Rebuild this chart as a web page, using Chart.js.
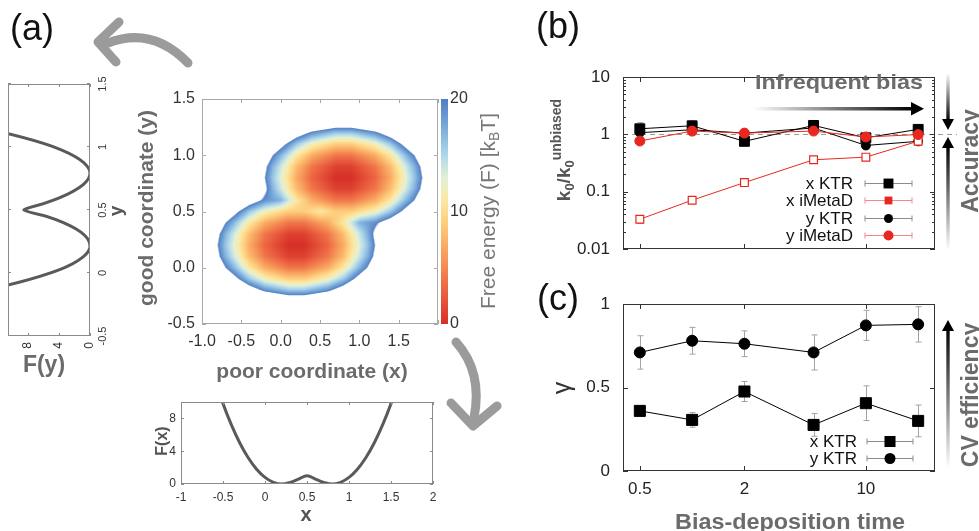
<!DOCTYPE html>
<html>
<head>
<meta charset="utf-8">
<script src="https://cdn.jsdelivr.net/npm/chart.js@4.4.1/dist/chart.umd.min.js"></script>
<style>
  body { margin: 0; background: #fff; width: 979px; height: 531px; overflow: hidden; position: relative;
         font-family: "Liberation Sans", Arial, sans-serif; }
  .panel { position: absolute; }
  .panel canvas { display: block; }
  #notes { position: absolute; left: 0; top: 0; pointer-events: none; }
</style>
</head>
<body>
<div class="panel" style="left:140px; top:80px;"><canvas id="surfaceChart" width="380" height="310"></canvas></div>
<div class="panel" style="left:150px; top:395px;"><canvas id="fxChart" width="300" height="136"></canvas></div>
<div class="panel" style="left:3px; top:356px; transform-origin:0 0; transform:rotate(-90deg);"><canvas id="fyChart" width="290" height="135"></canvas></div>
<div class="panel" style="left:560px; top:60px;"><canvas id="rateChart" width="419" height="200"></canvas></div>
<div class="panel" style="left:560px; top:285px;"><canvas id="gammaChart" width="419" height="246"></canvas></div>

<svg id="notes" width="979" height="531" font-family="Liberation Sans, Arial, sans-serif">
  <defs>
    <linearGradient id="fadeRight" x1="0" y1="0" x2="1" y2="0">
      <stop offset="0" stop-color="#000" stop-opacity="0"/><stop offset="1" stop-color="#000"/>
    </linearGradient>
    <linearGradient id="fadeDown" x1="0" y1="0" x2="0" y2="1">
      <stop offset="0" stop-color="#000" stop-opacity="0"/><stop offset="1" stop-color="#000"/>
    </linearGradient>
    <linearGradient id="fadeUp" x1="0" y1="1" x2="0" y2="0">
      <stop offset="0" stop-color="#000" stop-opacity="0"/><stop offset="1" stop-color="#000"/>
    </linearGradient>
  </defs>

  <!-- panel letters -->
  <text x="32" y="40" font-size="36" text-anchor="middle" fill="#111">(a)</text>
  <text x="558" y="38" font-size="36" text-anchor="middle" fill="#111">(b)</text>
  <text x="558" y="310" font-size="36" text-anchor="middle" fill="#111">(c)</text>

  <!-- curved grey arrows linking the profiles to the surface -->
  <path d="M188,63 Q152,26 108,43" fill="none" stroke="#9b9b9b" stroke-width="9" stroke-linecap="round"/>
  <path d="M119,22 L98,42 L116,62" fill="none" stroke="#9b9b9b" stroke-width="9" stroke-linecap="round" stroke-linejoin="round"/>
  <path d="M456,342 Q483,372 474,418" fill="none" stroke="#9b9b9b" stroke-width="9" stroke-linecap="round"/>
  <path d="M451,403 L473,426 L497,406" fill="none" stroke="#9b9b9b" stroke-width="9" stroke-linecap="round" stroke-linejoin="round"/>

  <!-- axis titles for (a) -->
  <text x="312" y="378" font-size="21" font-weight="bold" text-anchor="middle" fill="#6b6b6b">poor coordinate (x)</text>
  <text transform="translate(153,208) rotate(-90)" font-size="21" font-weight="bold" text-anchor="middle" fill="#6b6b6b">good coordinate (y)</text>
  <text transform="translate(495,211) rotate(-90)" font-size="21" text-anchor="middle" fill="#777">Free energy (F) [k<tspan font-size="14" dy="4">B</tspan><tspan dy="-4">T]</tspan></text>
  <text x="44" y="372" font-size="23" font-weight="bold" text-anchor="middle" fill="#6b6b6b">F(y)</text>
  <text transform="translate(122,211) rotate(-90)" font-size="19" font-weight="bold" text-anchor="middle" fill="#555">y</text>
  <text x="306" y="521" font-size="20" font-weight="bold" text-anchor="middle" fill="#555">x</text>
  <text transform="translate(167,441) rotate(-90)" font-size="16" font-weight="bold" text-anchor="middle" fill="#555">F(x)</text>

  <!-- (b) and (c) titles and guide arrows -->
  <text transform="translate(570,150) rotate(-90)" font-size="19" font-weight="bold" text-anchor="middle" fill="#555">k<tspan font-size="13" dy="4">0</tspan><tspan dy="-4">/k</tspan><tspan font-size="13" dy="4">0</tspan><tspan font-size="14" dy="-13">unbiased</tspan></text>
  <text transform="translate(570,388) rotate(-90)" font-size="25" text-anchor="middle" fill="#333">γ</text>
  <text x="790" y="529" font-size="22" font-weight="bold" text-anchor="middle" fill="#6b6b6b" textLength="230" lengthAdjust="spacingAndGlyphs">Bias-deposition time</text>

  <text x="755" y="89" font-size="21" font-weight="bold" fill="#6b6b6b" textLength="168" lengthAdjust="spacingAndGlyphs">Infrequent bias</text>
  <rect x="753" y="107" width="160" height="3.5" fill="url(#fadeRight)"/>
  <polygon points="911,102 924,108.7 911,115.5" fill="#000"/>

  <rect x="946.3" y="73" width="3.4" height="48" fill="url(#fadeDown)"/>
  <polygon points="942,119 948,130 954,119" fill="#000"/>
  <rect x="946.3" y="146" width="3.4" height="104" fill="url(#fadeUp)"/>
  <polygon points="942,148 948,137 954,148" fill="#000"/>
  <text transform="translate(978,161) rotate(-90)" font-size="23" font-weight="bold" text-anchor="middle" fill="#6b6b6b">Accuracy</text>

  <rect x="946.3" y="328" width="3.4" height="140" fill="url(#fadeUp)"/>
  <polygon points="942,331 948,320 954,331" fill="#000"/>
  <text transform="translate(978,395) rotate(-90)" font-size="23" font-weight="bold" text-anchor="middle" fill="#6b6b6b">CV efficiency</text>
</svg>

<script>
// ---------------- data ----------------
// bias-deposition times shared by (b) and (c)
const biasTimes = [0.5, 1, 2, 5, 10, 20];
const timeTicks = [0.5, 2, 10];

// (b) rate relative to the unbiased rate
const xKtrRate     = [1.25, 1.41, 0.755, 1.43, 0.87, 1.22];
const xKtrRateErr  = [0.35, 0.3, 0.1, 0.15, 0.1, 0.12];
const xMetaRate    = [0.033, 0.071, 0.144, 0.36, 0.40, 0.76];
const xMetaRateErr = [0.005, 0.005, 0.008, 0.02, 0.02, 0.04];
const yKtrRate     = [1.07, 1.2, 1.05, 1.29, 0.64, 0.755];
const yKtrRateErr  = [0.2, 0.25, 0.1, 0.15, 0.08, 0.08];
const yMetaRate    = [0.765, 1.14, 1.05, 1.14, 0.9, 0.99];
const yMetaRateErr = [0.05, 0.1, 0.1, 0.08, 0.08, 0.05];
const rateTicks = [0.01, 0.1, 1, 10];

// (c) gamma
const xKtrGamma    = [0.36, 0.306, 0.476, 0.276, 0.406, 0.30];
const xKtrGammaErr = [0.03, 0.044, 0.06, 0.068, 0.104, 0.095];
const yKtrGamma    = [0.71, 0.78, 0.762, 0.71, 0.872, 0.878];
const yKtrGammaErr = [0.1, 0.08, 0.077, 0.105, 0.09, 0.106];
const gammaTicks = [0, 0.5, 1];

// (a) one-dimensional free-energy profiles
const profileX  = [-0.6, -0.5, -0.4, -0.3, -0.2, -0.1, 0.0, 0.1, 0.2, 0.3, 0.4, 0.5, 0.6, 0.7, 0.8, 0.9, 1.0, 1.1, 1.2, 1.3, 1.4, 1.5, 1.6];
const profileFx = [12.8, 9.8, 7.2, 5.0, 3.2, 1.8, 0.8, 0.2, 0.0, 0.2, 0.6, 1.0, 0.6, 0.2, 0.0, 0.2, 0.8, 1.8, 3.2, 5.0, 7.2, 9.8, 12.8];
const profileY  = [-0.15, -0.1, -0.05, 0, 0.05, 0.1, 0.15, 0.2, 0.25, 0.3, 0.35, 0.4, 0.45, 0.5, 0.55, 0.6, 0.65, 0.7, 0.75, 0.8, 0.85, 0.9, 0.95, 1.0, 1.05, 1.1, 1.15];
const profileFy = [14.4, 10.8, 7.7, 5.1, 3.0, 1.5, 0.5, 0.0, 0.1, 0.7, 1.8, 3.4, 5.6, 8.5, 6.0, 3.8, 2.1, 0.9, 0.2, 0.0, 0.4, 1.3, 2.7, 4.6, 7.1, 10.1, 13.6];
const coordTicks = [-1, -0.5, 0, 0.5, 1, 1.5, 2];
const goodTicks  = [-0.5, 0, 0.5, 1, 1.5];
const energyProfileTicks = [0, 4, 8];

// (a) free-energy surface F(x, y) in kT, rows from y = 1.5 down to y = -0.5
const gridX = [-1.0, -0.9, -0.8, -0.7, -0.6, -0.5, -0.4, -0.3, -0.2, -0.1, 0.0, 0.1, 0.2, 0.3, 0.4, 0.5, 0.6, 0.7, 0.8, 0.9, 1.0, 1.1, 1.2, 1.3, 1.4, 1.5, 1.6, 1.7, 1.8, 1.9, 2.0];
const gridY = [1.5, 1.4, 1.3, 1.2, 1.1, 1.0, 0.9, 0.8, 0.7, 0.6, 0.5, 0.4, 0.3, 0.2, 0.1, 0.0, -0.1, -0.2, -0.3, -0.4, -0.5];
const freeEnergy = [
  [30,30,30,30,30,30,30,30,30,30,30,30,30,30,30,30,30,30,30,30,30,30,30,30,30,30,30,30,30,30,30],
  [30,30,30,30,30,30,30,30,30,30,30,30,30,30,30,30,30,30,30,30,30,30,30,30,30,30,30,30,30,30,30],
  [30,30,30,30,30,30,30,30,30,30,30,30,30,30,28,27,26,25,25,25,26,27,28,30,30,30,30,30,30,30,30],
  [30,30,30,30,30,30,30,30,30,30,29,26,23,21,19,18,17,16,16,16,17,18,19,21,23,26,29,30,30,30,30],
  [30,30,30,30,30,30,30,30,29,25,22,19,16,14,12,11,10, 9, 9, 9,10,11,12,14,16,19,22,25,29,30,30],
  [30,30,30,30,30,30,30,28,24,20,17,14,11, 9, 7, 6, 5, 4, 4, 4, 5, 6, 7, 9,11,14,17,20,24,28,30],
  [30,30,30,30,30,30,30,25,21,17,14,11, 8, 6, 4, 3, 2, 1, 1, 1, 2, 3, 4, 6, 8,11,14,17,21,25,30],
  [30,30,30,30,30,30,29,24,20,16,13,10, 7, 5, 3, 2, 1, 0, 0, 0, 1, 2, 3, 5, 7,10,13,16,20,24,29],
  [30,30,30,30,30,30,30,25,21,17,14,11, 8, 6, 4, 3, 2, 1, 1, 1, 2, 3, 4, 6, 8,11,14,17,21,25,30],
  [30,30,30,30,29,26,23,21,19,18,17,14,11, 9, 7, 6, 5, 4, 4, 4, 5, 6, 7, 9,11,14,17,20,24,28,30],
  [30,30,29,25,22,19,16,14,12,11,10, 9, 9, 9,10,11,10, 9, 9, 9,10,11,12,14,16,19,22,25,29,30,30],
  [30,28,24,20,17,14,11, 9, 7, 6, 5, 4, 4, 4, 5, 6, 7, 9,11,14,17,18,19,21,23,26,29,30,30,30,30],
  [30,25,21,17,14,11, 8, 6, 4, 3, 2, 1, 1, 1, 2, 3, 4, 6, 8,11,14,17,21,25,30,30,30,30,30,30,30],
  [29,24,20,16,13,10, 7, 5, 3, 2, 1, 0, 0, 0, 1, 2, 3, 5, 7,10,13,16,20,24,29,30,30,30,30,30,30],
  [30,25,21,17,14,11, 8, 6, 4, 3, 2, 1, 1, 1, 2, 3, 4, 6, 8,11,14,17,21,25,30,30,30,30,30,30,30],
  [30,28,24,20,17,14,11, 9, 7, 6, 5, 4, 4, 4, 5, 6, 7, 9,11,14,17,20,24,28,30,30,30,30,30,30,30],
  [30,30,29,25,22,19,16,14,12,11,10, 9, 9, 9,10,11,12,14,16,19,22,25,29,30,30,30,30,30,30,30,30],
  [30,30,30,30,29,26,23,21,19,18,17,16,16,16,17,18,19,21,23,26,29,30,30,30,30,30,30,30,30,30,30],
  [30,30,30,30,30,30,30,30,28,27,26,25,25,25,26,27,28,30,30,30,30,30,30,30,30,30,30,30,30,30,30],
  [30,30,30,30,30,30,30,30,30,30,30,30,30,30,30,30,30,30,30,30,30,30,30,30,30,30,30,30,30,30,30],
  [30,30,30,30,30,30,30,30,30,30,30,30,30,30,30,30,30,30,30,30,30,30,30,30,30,30,30,30,30,30,30]
];
const surfaceXTicks = [-1, -0.5, 0, 0.5, 1, 1.5, 2];
const surfaceYTicks = [-0.5, 0, 0.5, 1, 1.5];
const energyTicks = [0, 10, 20];
const energyCut = 20;

// ---------------- helpers ----------------
const FONT = '"Liberation Sans", Arial, sans-serif';
Chart.defaults.font.family = FONT;
Chart.defaults.color = '#222';
Chart.defaults.animation = false;
Chart.defaults.plugins.legend.display = false;
Chart.defaults.plugins.tooltip.enabled = false;

const setTicks = values => scale => { scale.ticks = values.map(v => ({ value: v })); };
// fixed axis sizes, and no extra room for labels hanging over the plot ends
const noOverhang = scale => { scale.paddingTop = scale.paddingBottom = scale.paddingLeft = scale.paddingRight = 0; };
const fixWidth = w => scale => { scale.width = w; noOverhang(scale); };
const fixHeight = h => scale => { scale.height = h; noOverhang(scale); };
// the frame plugin draws the tick marks, so the axes keep none of their own
const bare = { grid: { display: false, drawTicks: false }, border: { display: false } };

// red - yellow - blue map for the energy, 0 to 20 kT
const energyStops = [
  [0, [214, 48, 39]], [3, [236, 100, 66]], [6, [247, 155, 90]], [9, [253, 206, 126]],
  [11, [252, 232, 162]], [13, [226, 240, 214]], [15, [176, 216, 234]], [17.5, [122, 170, 218]], [20, [80, 126, 196]]
];
function energyColour(f) {
  f = Math.max(0, Math.min(20, f));
  for (let i = 1; i < energyStops.length; i++) {
    const [f1, c1] = energyStops[i];
    if (f <= f1) {
      const [f0, c0] = energyStops[i - 1];
      const t = (f - f0) / (f1 - f0);
      return c0.map((c, k) => Math.round(c + (c1[k] - c) * t));
    }
  }
  return energyStops[energyStops.length - 1][1];
}

// bilinear look-up in the surface table
function surfaceAt(xv, yv) {
  const c = (xv - gridX[0]) / (gridX[1] - gridX[0]);
  const r = (gridY[0] - yv) / (gridY[0] - gridY[1]);
  const c0 = Math.max(0, Math.min(gridX.length - 2, Math.floor(c)));
  const r0 = Math.max(0, Math.min(gridY.length - 2, Math.floor(r)));
  const tc = Math.max(0, Math.min(1, c - c0));
  const tr = Math.max(0, Math.min(1, r - r0));
  const top = freeEnergy[r0][c0] * (1 - tc) + freeEnergy[r0][c0 + 1] * tc;
  const bot = freeEnergy[r0 + 1][c0] * (1 - tc) + freeEnergy[r0 + 1][c0 + 1] * tc;
  return top * (1 - tr) + bot * tr;
}

const surfacePlugin = {
  id: 'surface',
  beforeDatasetsDraw(chart) {
    const { ctx, chartArea: area, scales } = chart;
    const w = Math.round(area.width), h = Math.round(area.height);
    const off = document.createElement('canvas');
    off.width = w; off.height = h;
    const octx = off.getContext('2d');
    const img = octx.createImageData(w, h);
    for (let j = 0; j < h; j++) {
      const yv = scales.y.getValueForPixel(area.top + j + 0.5);
      for (let i = 0; i < w; i++) {
        const xv = scales.x.getValueForPixel(area.left + i + 0.5);
        const f = surfaceAt(xv, yv);
        const alpha = Math.max(0, Math.min(1, (energyCut + 0.4 - f) / 0.8));
        if (!alpha) continue;
        const rgb = energyColour(f);
        const k = (j * w + i) * 4;
        img.data[k] = rgb[0]; img.data[k + 1] = rgb[1]; img.data[k + 2] = rgb[2];
        img.data[k + 3] = Math.round(alpha * 255);
      }
    }
    octx.putImageData(img, 0, 0);
    ctx.drawImage(off, area.left, area.top);

    // colour bar next to the plot, on the energy scale
    const cb = scales.cb;
    for (let py = Math.floor(cb.top); py < cb.bottom; py++) {
      const rgb = energyColour(cb.getValueForPixel(py + 0.5));
      ctx.fillStyle = `rgb(${rgb[0]},${rgb[1]},${rgb[2]})`;
      ctx.fillRect(area.right + 3, py, 7, 1);
    }
  }
};

// box around the plot area with inward tick marks on all four sides
const framePlugin = {
  id: 'frame',
  afterDatasetsDraw(chart, args, o) {
    const { ctx, chartArea: a, scales } = chart;
    const big = o.tick ?? 5, small = o.minor ?? 3;
    ctx.save();
    ctx.strokeStyle = o.color || '#333';
    ctx.lineWidth = 1;
    ctx.strokeRect(Math.round(a.left) + 0.5, Math.round(a.top) + 0.5, Math.round(a.width) - 1, Math.round(a.height) - 1);
    ctx.beginPath();
    scales.x.ticks.forEach(t => {
      const len = t.label ? big : small;
      const px = Math.round(scales.x.getPixelForValue(t.value)) + 0.5;
      ctx.moveTo(px, a.top); ctx.lineTo(px, a.top + len);
      ctx.moveTo(px, a.bottom); ctx.lineTo(px, a.bottom - len);
    });
    scales.y.ticks.forEach(t => {
      const len = t.label ? big : small;
      const py = Math.round(scales.y.getPixelForValue(t.value)) + 0.5;
      ctx.moveTo(a.left, py); ctx.lineTo(a.left + len, py);
      ctx.moveTo(a.right, py); ctx.lineTo(a.right - len, py);
    });
    ctx.stroke();
    ctx.restore();
  }
};

// vertical error bars with caps, taken from each dataset's errors list
const errorBarPlugin = {
  id: 'errorBars',
  beforeDatasetsDraw(chart) {
    const { ctx, scales: { x, y } } = chart;
    ctx.save();
    ctx.strokeStyle = '#a3a3a3';
    ctx.lineWidth = 1;
    chart.data.datasets.forEach(ds => {
      if (!ds.errors) return;
      ds.data.forEach((p, i) => {
        const e = ds.errors[i];
        const px = Math.round(x.getPixelForValue(p.x)) + 0.5;
        const lo = y.getPixelForValue(Math.max(p.y - e, y.min));
        const hi = y.getPixelForValue(p.y + e);
        ctx.beginPath();
        ctx.moveTo(px, lo); ctx.lineTo(px, hi);
        ctx.moveTo(px - 3, lo); ctx.lineTo(px + 3, lo);
        ctx.moveTo(px - 3, hi); ctx.lineTo(px + 3, hi);
        ctx.stroke();
      });
    });
    ctx.restore();
  }
};

// dashed guide at k0 / k0(unbiased) = 1
const unityPlugin = {
  id: 'unity',
  beforeDatasetsDraw(chart, args, o) {
    if (o.value == null) return;
    const { ctx, chartArea: a, scales: { y } } = chart;
    const py = Math.round(y.getPixelForValue(o.value)) + 0.5;
    ctx.save();
    ctx.strokeStyle = '#9a9a9a';
    ctx.setLineDash([5, 4]);
    ctx.beginPath();
    ctx.moveTo(a.left, py); ctx.lineTo(a.right + (o.extend || 0), py);
    ctx.stroke();
    ctx.restore();
  }
};

// key drawn inside the plot, lower right: label, then a capped line with the marker
const keyPlugin = {
  id: 'key',
  afterDatasetsDraw(chart, args, o) {
    if (!o.textRight) return;
    const { ctx, chartArea: a } = chart;
    const sets = chart.data.datasets;
    ctx.save();
    ctx.font = `17px ${FONT}`;
    ctx.textAlign = 'right';
    ctx.textBaseline = 'middle';
    sets.forEach((ds, i) => {
      const yy = Math.round(a.bottom - o.bottom - (sets.length - 1 - i) * o.step) + 0.5;
      ctx.fillStyle = '#111';
      ctx.fillText(ds.label, a.right - o.textRight, yy + 1);
      const x1 = a.right - o.lineFrom, x2 = a.right - o.lineTo, xm = (x1 + x2) / 2;
      ctx.strokeStyle = ds.keyLine;
      ctx.lineWidth = 1;
      ctx.beginPath();
      ctx.moveTo(x1, yy); ctx.lineTo(x2, yy);
      ctx.moveTo(x1, yy - 3); ctx.lineTo(x1, yy + 3);
      ctx.moveTo(x2, yy - 3); ctx.lineTo(x2, yy + 3);
      ctx.stroke();
      ctx.fillStyle = ds.borderColor;
      const r = ds.pointRadius;
      if (ds.pointStyle === 'rect') {
        const s = r * Math.SQRT1_2;
        ctx.fillRect(xm - s, yy - s, 2 * s, 2 * s);
      } else {
        ctx.beginPath();
        ctx.arc(xm, yy, r, 0, Math.PI * 2);
        ctx.fill();
      }
    });
    ctx.restore();
  }
};

const pairs = (xs, ys) => xs.map((v, i) => ({ x: v, y: ys[i] }));

// ---------------- (a) surface ----------------
new Chart(document.getElementById('surfaceChart'), {
  type: 'scatter',
  data: { datasets: [] },
  options: {
    responsive: false,
    layout: { padding: { top: 19, right: 47, bottom: 0, left: 0 } },
    plugins: { frame: { color: '#a8a8a8', tick: 4, minor: 4 } },
    scales: {
      x: {
        ...bare, type: 'linear', min: -1, max: 2,
        afterBuildTicks: setTicks(surfaceXTicks), afterFit: fixHeight(66),
        ticks: { font: { size: 16 }, color: '#333', padding: 8, autoSkip: false, maxRotation: 0,
                 callback: v => (v === 2 ? '' : v.toFixed(1)) }
      },
      y: {
        ...bare, type: 'linear', min: -0.5, max: 1.5,
        afterBuildTicks: setTicks(surfaceYTicks), afterFit: fixWidth(62),
        ticks: { font: { size: 16 }, color: '#333', padding: 7, autoSkip: false, callback: v => v.toFixed(1) }
      },
      cb: {
        ...bare, type: 'linear', position: 'right', min: 0, max: energyCut,
        afterBuildTicks: setTicks(energyTicks), afterFit: fixWidth(35),
        ticks: { font: { size: 16 }, color: '#333', padding: 12, autoSkip: false }
      }
    }
  },
  plugins: [surfacePlugin, framePlugin]
});

// ---------------- (a) F(x) profile ----------------
new Chart(document.getElementById('fxChart'), {
  type: 'scatter',
  data: {
    datasets: [{
      data: pairs(profileX, profileFx), showLine: true, pointRadius: 0,
      borderColor: '#5a5a5a', borderWidth: 3, tension: 0.4, clip: 0
    }]
  },
  options: {
    responsive: false,
    layout: { padding: { top: 7, right: 17, bottom: 0, left: 0 } },
    plugins: { frame: { color: '#8a8a8a', tick: 3, minor: 3 } },
    scales: {
      x: {
        ...bare, type: 'linear', min: -1, max: 2,
        afterBuildTicks: setTicks(coordTicks), afterFit: fixHeight(47),
        ticks: { font: { size: 12 }, color: '#333', padding: 6, autoSkip: false, maxRotation: 0, callback: v => String(v) }
      },
      y: {
        ...bare, type: 'linear', min: 0, max: 10,
        afterBuildTicks: setTicks(energyProfileTicks), afterFit: fixWidth(31),
        ticks: { font: { size: 12 }, color: '#333', padding: 5, autoSkip: false }
      }
    }
  },
  plugins: [framePlugin]
});

// ---------------- (a) F(y) profile, drawn on its side ----------------
new Chart(document.getElementById('fyChart'), {
  type: 'scatter',
  data: {
    datasets: [{
      data: pairs(profileY, profileFy), showLine: true, pointRadius: 0,
      borderColor: '#5a5a5a', borderWidth: 3, tension: 0.2, clip: 0
    }]
  },
  options: {
    responsive: false,
    layout: { padding: { top: 5, right: 18, bottom: 13, left: 4 } },
    plugins: { frame: { color: '#8a8a8a', tick: 3, minor: 3 } },
    scales: {
      x: {
        ...bare, type: 'linear', min: -0.5, max: 1.5,
        afterBuildTicks: setTicks(goodTicks), afterFit: fixHeight(35),
        ticks: { font: { size: 11 }, color: '#333', padding: 6, autoSkip: false, maxRotation: 0, callback: v => String(v) }
      },
      y: {
        ...bare, type: 'linear', min: 0, max: 10.5,
        afterBuildTicks: setTicks(energyProfileTicks), afterFit: fixWidth(16),
        ticks: { font: { size: 12 }, color: '#333', padding: 6, autoSkip: false }
      }
    }
  },
  plugins: [framePlugin]
});

// ---------------- (b) rates ----------------
const rateMinor = [];
rateTicks.slice(0, -1).forEach(d => { for (let m = 2; m <= 9; m++) rateMinor.push(+(d * m).toPrecision(3)); });

const timeAxis = (height, showLabels) => ({
  ...bare, type: 'logarithmic', min: 0.4, max: 25,
  afterBuildTicks: setTicks(timeTicks), afterFit: fixHeight(height),
  ticks: { display: showLabels, font: { size: 17 }, color: '#222', padding: 8, autoSkip: false, maxRotation: 0,
           callback: v => String(v) }
});

new Chart(document.getElementById('rateChart'), {
  type: 'scatter',
  data: {
    datasets: [
      { label: 'x KTR', data: pairs(biasTimes, xKtrRate), errors: xKtrRateErr, order: 2,
        showLine: true, borderColor: '#000', backgroundColor: '#000', borderWidth: 1,
        pointStyle: 'rect', pointRadius: 7, keyLine: '#8c8c8c' },
      { label: 'x iMetaD', data: pairs(biasTimes, xMetaRate), errors: xMetaRateErr, order: 1,
        showLine: true, borderColor: '#e8281e', backgroundColor: '#fff', borderWidth: 1,
        pointStyle: 'rect', pointRadius: 5.5, pointBorderWidth: 1.2, keyLine: '#f08a84' },
      { label: 'y KTR', data: pairs(biasTimes, yKtrRate), errors: yKtrRateErr, order: 3,
        showLine: true, borderColor: '#000', backgroundColor: '#000', borderWidth: 1,
        pointStyle: 'circle', pointRadius: 4.5, keyLine: '#8c8c8c' },
      { label: 'y iMetaD', data: pairs(biasTimes, yMetaRate), errors: yMetaRateErr, order: 0,
        showLine: true, borderColor: '#e8281e', backgroundColor: '#e8281e', borderWidth: 1,
        pointStyle: 'circle', pointRadius: 5, keyLine: '#f08a84' }
    ]
  },
  options: {
    responsive: false,
    layout: { padding: { top: 17, right: 44, bottom: 0, left: 0 } },
    plugins: {
      frame: { color: '#333', tick: 5, minor: 3 },
      unity: { value: 1, extend: 22 },
      key: { textRight: 82, lineFrom: 70, lineTo: 23, bottom: 14, step: 17.3 }
    },
    scales: {
      x: timeAxis(11, false),
      y: {
        ...bare, type: 'logarithmic', min: 0.01, max: 10,
        afterBuildTicks: scale => {
          scale.ticks = rateTicks.concat(rateMinor).sort((a, b) => a - b).map(v => ({ value: v }));
        },
        afterFit: fixWidth(63),
        ticks: { font: { size: 17 }, color: '#222', padding: 13, autoSkip: false,
                 callback: v => (rateTicks.includes(v) ? String(v) : '') }
      }
    }
  },
  plugins: [errorBarPlugin, unityPlugin, framePlugin, keyPlugin]
});

// ---------------- (c) gamma ----------------
new Chart(document.getElementById('gammaChart'), {
  type: 'scatter',
  data: {
    datasets: [
      { label: 'x KTR', data: pairs(biasTimes, xKtrGamma), errors: xKtrGammaErr,
        showLine: true, borderColor: '#000', backgroundColor: '#000', borderWidth: 1,
        pointStyle: 'rect', pointRadius: 7.8, keyLine: '#8c8c8c' },
      { label: 'y KTR', data: pairs(biasTimes, yKtrGamma), errors: yKtrGammaErr,
        showLine: true, borderColor: '#000', backgroundColor: '#000', borderWidth: 1,
        pointStyle: 'circle', pointRadius: 5.5, keyLine: '#8c8c8c' }
    ]
  },
  options: {
    responsive: false,
    layout: { padding: { top: 19, right: 44, bottom: 0, left: 0 } },
    plugins: {
      frame: { color: '#333', tick: 5, minor: 3 },
      key: { textRight: 78, lineFrom: 68, lineTo: 22, bottom: 13, step: 17 }
    },
    scales: {
      x: timeAxis(60, true),
      y: {
        ...bare, type: 'linear', min: 0, max: 1,
        afterBuildTicks: setTicks(gammaTicks), afterFit: fixWidth(63),
        ticks: { font: { size: 17 }, color: '#222', padding: 13, autoSkip: false, callback: v => String(v) }
      }
    }
  },
  plugins: [errorBarPlugin, framePlugin, keyPlugin]
});
</script>
</body>
</html>
